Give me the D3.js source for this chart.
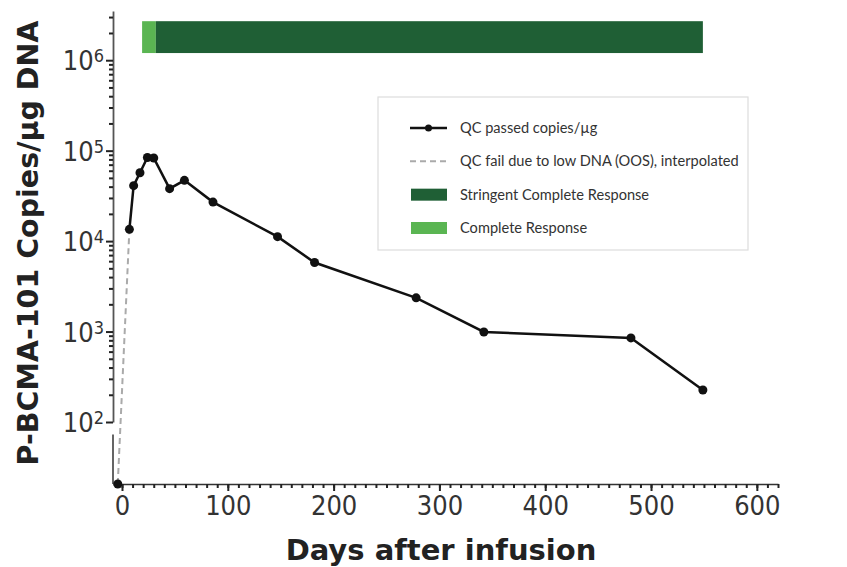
<!DOCTYPE html>
<html>
<head>
<meta charset="utf-8">
<script src="https://cdn.jsdelivr.net/npm/d3@7"></script>
<style>
  body { margin: 0; background: #fff; }
  svg { display: block; }
  .tick-label { font-family: "Liberation Sans Narrow", "DejaVu Sans Condensed", sans-serif; fill: #333; }
  .axis-title { font-family: "DejaVu Sans", sans-serif; font-weight: bold; fill: #222; }
  .legend-text { font-family: Lato, "Open Sans", sans-serif; fill: #333; }
</style>
</head>
<body>
<script>
var width = 847,
    height = 567;

// sample days and copies/ug (0 = below detection, drawn on the zero baseline)
var days   = [-4, 7, 11, 17, 24, 30, 45, 59, 86, 147, 182, 278, 342, 481, 549];
var copies = [0, 13500, 41000, 57000, 84000, 83000, 38000, 47000, 27000, 11200, 5800, 2360, 990, 850, 226];

// response bar spans (days) and their vertical extent (copies/ug)
var responseNames  = ["Complete Response", "Stringent Complete Response"];
var responseStart  = [19, 32];
var responseEnd    = [32, 549];
var responseColors = ["#5ab552", "#1f5f35"];
var barLow = 1.2e6, barHigh = 2.7e6;

var xTicks = [0, 100, 200, 300, 400, 500, 600];
var yDecades = [1e2, 1e3, 1e4, 1e5, 1e6];
var yDecadeExp = ["2", "3", "4", "5", "6"];

var x = d3.scaleLinear()
    .domain([-8.5, 620])
    .range([113, 778]);

// upper part of the broken axis is log, the lower stub only shows zero
var yLog = d3.scaleLog()
    .domain([100, 3.5e6])
    .range([422, 11]);

var yZero = d3.scaleLinear()
    .domain([0, 100])
    .range([484, 422]);

function y(v) { return v > 0 ? yLog(v) : yZero(v); }

var svg = d3.select("body").append("svg")
    .attr("width", width)
    .attr("height", height);

// response bar
svg.selectAll("rect.resp")
    .data(responseStart)
    .enter().append("rect")
    .attr("class", "resp")
    .attr("x", function (d) { return x(d); })
    .attr("width", function (d, i) { return x(responseEnd[i]) - x(d); })
    .attr("y", yLog(barHigh))
    .attr("height", yLog(barLow) - yLog(barHigh))
    .attr("fill", function (d, i) { return responseColors[i]; });

// x axis
var xMinor = d3.range(0, 621, 10);
svg.append("g")
    .attr("transform", "translate(0," + yZero(0) + ")")
    .call(d3.axisBottom(x).tickValues(xMinor).tickSize(4).tickSizeOuter(0).tickFormat(""))
    .call(function (g) {
      g.select(".domain").attr("stroke", "#333").attr("stroke-width", 1.6);
      g.selectAll(".tick line").attr("stroke", "#222").attr("stroke-width", 2);
    });

svg.append("g")
    .attr("transform", "translate(0," + yZero(0) + ")")
    .call(d3.axisBottom(x).tickValues(xTicks).tickSize(7).tickSizeOuter(0).tickPadding(5))
    .call(function (g) {
      g.select(".domain").remove();
      g.selectAll(".tick line").attr("stroke", "#222").attr("stroke-width", 2);
      g.selectAll(".tick text")
        .attr("class", "tick-label")
        .style("font-size", "27px")
        .attr("fill", "#333");
    });

// y axis, upper (log) segment
var yMinor = [];
[100, 1e3, 1e4, 1e5, 1e6].forEach(function (b) {
  for (var k = 2; k <= 9; k++) if (b * k <= 3.5e6) yMinor.push(b * k);
});

svg.append("g")
    .attr("transform", "translate(" + x(-8.5) + ",0)")
    .call(d3.axisLeft(yLog).tickValues(yMinor).tickSize(4).tickSizeOuter(0).tickFormat(""))
    .call(function (g) {
      g.select(".domain").attr("stroke", "#555").attr("stroke-width", 1.8);
      g.selectAll(".tick line").attr("stroke", "#222").attr("stroke-width", 2);
    });

var yMajor = svg.append("g")
    .attr("transform", "translate(" + x(-8.5) + ",0)")
    .call(d3.axisLeft(yLog).tickValues(yDecades).tickSize(7).tickSizeOuter(0).tickFormat(""));
yMajor.select(".domain").remove();
yMajor.selectAll(".tick line").attr("stroke", "#222").attr("stroke-width", 2);
yMajor.selectAll(".tick").each(function (d, i) {
  var t = d3.select(this).append("text")
      .attr("class", "tick-label")
      .attr("x", -9)
      .attr("dy", "0.36em")
      .attr("text-anchor", "end")
      .style("font-size", "27px");
  t.append("tspan").text("10");
  t.append("tspan")
      .attr("dy", "-0.45em")
      .style("font-size", "18px")
      .text(yDecadeExp[i]);
});

// y axis, lower stub (zero)
svg.append("line")
    .attr("x1", x(-8.5)).attr("x2", x(-8.5))
    .attr("y1", yZero(0)).attr("y2", yZero(80))
    .attr("stroke", "#555")
    .attr("stroke-width", 1.8);

// interpolated (QC fail) segment
svg.append("line")
    .attr("x1", x(days[0])).attr("y1", y(copies[0]))
    .attr("x2", x(days[1])).attr("y2", y(copies[1]))
    .attr("stroke", "#aaa")
    .attr("stroke-width", 2)
    .attr("stroke-dasharray", "6,4");

// QC passed line
var line = d3.line()
    .x(function (d, i) { return x(days[i + 1]); })
    .y(function (d) { return y(d); });

svg.append("path")
    .datum(copies.slice(1))
    .attr("d", line)
    .attr("fill", "none")
    .attr("stroke", "#111")
    .attr("stroke-width", 2.5);

svg.selectAll("circle.pt")
    .data(copies)
    .enter().append("circle")
    .attr("class", "pt")
    .attr("cx", function (d, i) { return x(days[i]); })
    .attr("cy", function (d) { return y(d); })
    .attr("r", 4.5)
    .attr("fill", "#111");

// axis titles
svg.append("text")
    .attr("class", "axis-title")
    .attr("x", 441)
    .attr("y", 560)
    .attr("text-anchor", "middle")
    .style("font-size", "29px")
    .text("Days after infusion");

svg.append("text")
    .attr("class", "axis-title")
    .attr("transform", "translate(38," + 243 + ")rotate(-90)")
    .attr("text-anchor", "middle")
    .style("font-size", "28.5px")
    .text("P-BCMA-101 Copies/\u00b5g DNA");

// legend
var legend = svg.append("g").attr("transform", "translate(378,97)");
legend.append("rect")
    .attr("width", 370)
    .attr("height", 153)
    .attr("fill", "#fff")
    .attr("stroke", "#ddd")
    .attr("stroke-width", 1.2);

var legendLabels = ["QC passed copies/\u00b5g", "QC fail due to low DNA (OOS), interpolated",
                    "Stringent Complete Response", "Complete Response"];
var rowY = d3.scalePoint().domain(d3.range(4)).range([31, 131]);

legend.append("line")
    .attr("x1", 32).attr("x2", 69).attr("y1", rowY(0)).attr("y2", rowY(0))
    .attr("stroke", "#111").attr("stroke-width", 2.5);
legend.append("circle")
    .attr("cx", 50.5).attr("cy", rowY(0)).attr("r", 3.5).attr("fill", "#111");
legend.append("line")
    .attr("x1", 32).attr("x2", 69).attr("y1", rowY(1)).attr("y2", rowY(1))
    .attr("stroke", "#aaa").attr("stroke-width", 2).attr("stroke-dasharray", "6,4");
legend.append("rect")
    .attr("x", 33).attr("y", rowY(2) - 6).attr("width", 36).attr("height", 12)
    .attr("fill", responseColors[1]);
legend.append("rect")
    .attr("x", 33).attr("y", rowY(3) - 6).attr("width", 36).attr("height", 12)
    .attr("fill", responseColors[0]);

legend.selectAll("text.legend-text")
    .data(legendLabels)
    .enter().append("text")
    .attr("class", "legend-text")
    .attr("x", 82)
    .attr("y", function (d, i) { return rowY(i); })
    .attr("dy", "0.35em")
    .style("font-size", "14.6px")
    .text(function (d) { return d; });
</script>
</body>
</html>
